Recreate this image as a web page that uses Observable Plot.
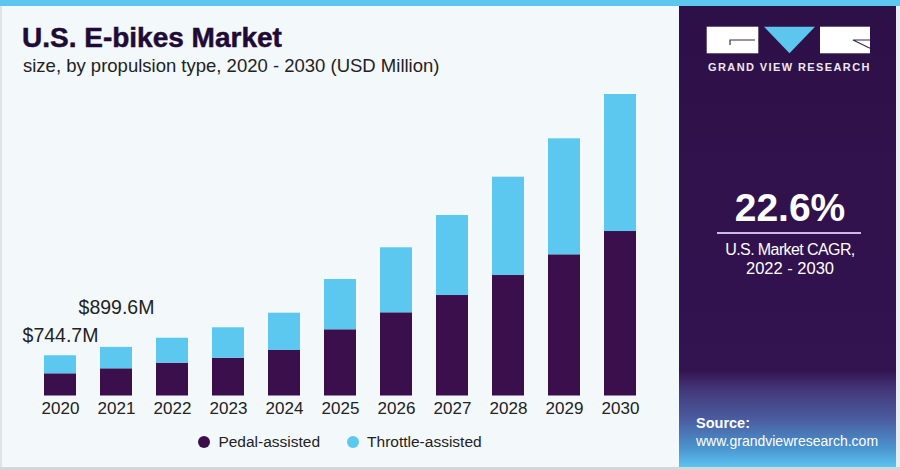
<!DOCTYPE html>
<html>
<head>
<meta charset="utf-8">
<script src="https://cdn.jsdelivr.net/npm/d3@7"></script>
<script src="https://cdn.jsdelivr.net/npm/@observablehq/plot@0.6"></script>
<style>
  html, body { margin: 0; padding: 0; }
  body { width: 900px; height: 470px; overflow: hidden; font-family: "Liberation Sans", Arial, sans-serif; }
  #frame { position: relative; width: 900px; height: 470px; background: #f3f8fb; overflow: hidden; }
  .abs { position: absolute; white-space: nowrap; line-height: normal; }
  #stripe { left: 0; top: 0; width: 900px; height: 6px; background: #5cc6ee; }
  #bottomline { left: 0; top: 467px; width: 900px; height: 3px; background: #d3d7da; }
  #leftline { left: 0; top: 6px; width: 2px; height: 464px; background: #dfe3e6; }
  #rightline { left: 896px; top: 6px; width: 4px; height: 464px; background: #e9eef2; }
  #title { left: 22px; top: 22.4px; font-size: 28px; font-weight: 900; color: #1f0b36; -webkit-text-stroke: 0.5px #1f0b36; }
  #subtitle { left: 23px; top: 55px; font-size: 18.5px; color: #222; }
  #panel { left: 679px; top: 6px; width: 217px; height: 461px;
    background: linear-gradient(to bottom, #2e1048 0%, #331350 79%, #433678 83%, #4a5fa2 90%, #4b95d0 96%, #5cc3ef 100%); }
  #gvr { left: 708px; top: 60.7px; font-size: 11px; font-weight: bold; letter-spacing: 1.4px; color: #ece8f2; }
  #cagr { left: 690px; width: 200px; text-align: center; top: 185.7px; font-size: 39px; font-weight: bold; color: #fff; }
  #rule { left: 717px; top: 231.5px; width: 144px; height: 2px; background: #cdb6ea; }
  #cagr1 { left: 690px; width: 200px; text-align: center; top: 240.5px; font-size: 16px; letter-spacing: -0.6px; color: #fff; }
  #cagr2 { left: 690px; width: 200px; text-align: center; top: 259px; font-size: 16.5px; color: #fff; }
  #src1 { left: 696px; top: 415.2px; font-size: 14.5px; font-weight: bold; color: #fff; }
  #src2 { left: 696px; top: 433.3px; font-size: 14px; color: #fff; }
  #chart { left: 0; top: 80px; }
  #legend { left: 0; top: 432.6px; width: 680px; display: flex; justify-content: center; gap: 27px; font-size: 15.5px; color: #222; }
  .item { display: inline-flex; align-items: center; gap: 8px; }
  .dot { width: 12px; height: 12px; border-radius: 50%; display: inline-block; }
</style>
</head>
<body>
<div id="frame">
  <div class="abs" id="stripe"></div>
  <div class="abs" id="leftline"></div>
  <div class="abs" id="panel"></div>
  <div class="abs" id="rightline"></div>
  <div class="abs" id="bottomline"></div>
  <div class="abs" id="title">U.S. E-bikes Market</div>
  <div class="abs" id="subtitle">size, by propulsion type, 2020 - 2030 (USD Million)</div>

  <svg class="abs" style="left:0;top:0" width="900" height="80">
    <rect x="706.7" y="26.7" width="51.6" height="26.6" fill="#ffffff"/>
    <polyline points="730,45 730,40 755,40" fill="none" stroke="#3a2a4a" stroke-width="1.2"/>
    <polygon points="764,26.7 815,26.7 789.5,53.3" fill="#5cc6ee"/>
    <rect x="820" y="26.7" width="50" height="26.6" fill="#ffffff"/>
    <polyline points="870,40 853,40 870,48.3" fill="none" stroke="#3a2a4a" stroke-width="1.2"/>
  </svg>
  <div class="abs" id="gvr">GRAND VIEW RESEARCH</div>
  <div class="abs" id="cagr">22.6%</div>
  <div class="abs" id="rule"></div>
  <div class="abs" id="cagr1">U.S. Market CAGR,</div>
  <div class="abs" id="cagr2">2022 - 2030</div>
  <div class="abs" id="src1">Source:</div>
  <div class="abs" id="src2">www.grandviewresearch.com</div>

  <div class="abs" id="chart"></div>
  <div class="abs" id="legend"></div>
</div>
<script>
// ---- data (USD Million) ----
const years = ["2020","2021","2022","2023","2024","2025","2026","2027","2028","2029","2030"];
const seriesNames = ["Pedal-assisted", "Throttle-assisted"];
const seriesColors = ["#3a0f4b", "#5cc8f0"];
const pedal    = [410.7, 503, 607, 699, 842, 1225, 1539, 1859, 2229, 2612, 3043];
const throttle = [334.0, 396.6, 462, 563, 690, 930, 1203, 1480, 1819, 2146, 2535];
const labelYears  = ["2020", "2021"];
const labelValues = [744.7, 899.6];

const rows = years.flatMap((yr, i) => [
  {year: yr, type: seriesNames[0], value: pedal[i]},
  {year: yr, type: seriesNames[1], value: throttle[i]}
]);
const labels = labelYears.map((yr, i) => ({year: yr, value: labelValues[i]}));

const chart = Plot.plot({
  width: 680,
  height: 345,
  marginTop: 2, marginBottom: 29.5, marginLeft: 0, marginRight: 0,
  style: {fontFamily: '"Liberation Sans", Arial, sans-serif', background: "transparent", color: "#222", overflow: "visible"},
  x: {type: "band", domain: years, range: [41.5, 638], paddingInner: 0.43, paddingOuter: 0, align: 0.5, label: null},
  y: {domain: [0, 5800], axis: null},
  color: {domain: seriesNames, range: seriesColors},
  marks: [
    Plot.barY(rows, {x: "year", y: "value", fill: "type", order: seriesNames}),
    Plot.axisX({tickSize: 0, tickPadding: 6, fontSize: 17, fill: "#222", label: null}),
    Plot.text(labels.slice(0, 1), {x: "year", y: "value", text: d => `$${d.value}M`, fontSize: 19.5, fill: "#222", dy: -19.8}),
    Plot.text(labels.slice(1, 2), {x: "year", y: "value", text: d => `$${d.value}M`, fontSize: 19.5, fill: "#222", dy: -39.8})
  ]
});
document.getElementById("chart").appendChild(chart);

const legend = document.getElementById("legend");
seriesNames.forEach((name, i) => {
  const item = document.createElement("span");
  item.className = "item";
  const dot = document.createElement("span");
  dot.className = "dot";
  dot.style.background = seriesColors[i];
  const label = document.createElement("span");
  label.textContent = name;
  item.appendChild(dot);
  item.appendChild(label);
  legend.appendChild(item);
});
</script>
</body>
</html>
